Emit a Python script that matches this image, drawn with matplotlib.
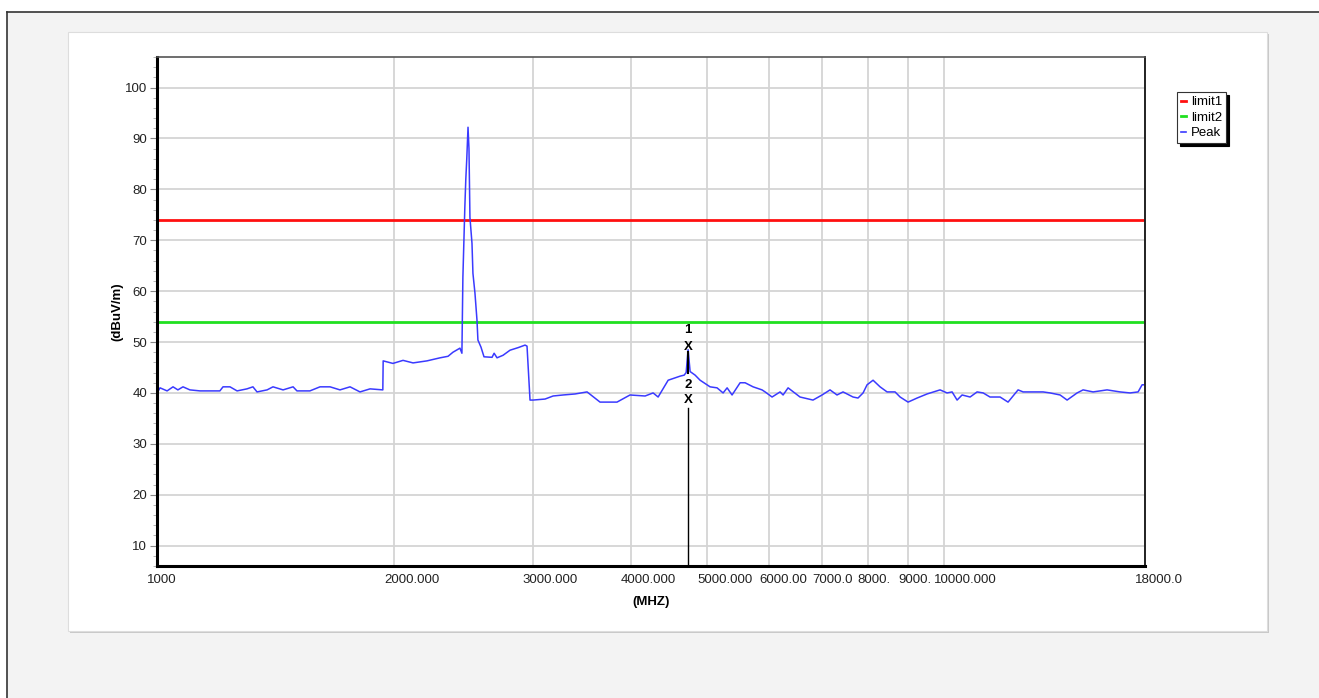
import matplotlib
matplotlib.use("Agg")
import matplotlib.pyplot as plt
import matplotlib.transforms as mtransforms
from matplotlib.patches import Rectangle
from matplotlib.lines import Line2D
from matplotlib.ticker import MultipleLocator, NullLocator

plt.rcParams['font.family'] = ['Liberation Sans', 'DejaVu Sans']

# 測定データ (Peak trace), MHz / dBuV/m
freq_mhz = [1000, 1009, 1030, 1048, 1063, 1079, 1101, 1134, 1202, 1213, 1238, 1264,
            1301, 1324, 1340, 1380, 1404, 1446, 1489, 1506, 1564, 1611, 1659, 1708,
            1759, 1811, 1865, 1931, 1936, 1938, 1994, 2054, 2115, 2203, 2289, 2343,
            2377, 2426, 2440, 2447, 2461, 2468, 2475, 2484, 2491, 2498, 2513, 2520,
            2535, 2550, 2557, 2580, 2603, 2665, 2681, 2704, 2752, 2809, 2876, 2935,
            2952, 2978, 3004, 3112, 3186, 3281, 3398, 3519, 3655, 3841, 3990, 4170,
            4269, 4332, 4461, 4620, 4675, 4702, 4729, 4757, 4827, 4898, 4999, 5043,
            5147, 5239, 5301, 5378, 5506, 5587, 5719, 5871, 5924, 6046, 6189, 6244,
            6336, 6561, 6815, 6998, 7163, 7311, 7441, 7662, 7774, 7890, 7983, 8124,
            8292, 8464, 8664, 8793, 9000, 9241, 9515, 9883, 10088, 10237, 10388, 10541,
            10791, 11014, 11211, 11438, 11780, 12058, 12417, 12601, 12975, 13360, 13637,
            14042, 14332, 14757, 15018, 15463, 16110, 16735, 17232, 17640, 17848, 18000]
peak_dbuv = [40.0, 41.0, 40.4, 41.2, 40.6, 41.2, 40.6, 40.4, 40.4, 41.2, 41.2, 40.4,
             40.8, 41.2, 40.2, 40.6, 41.2, 40.6, 41.2, 40.4, 40.4, 41.2, 41.2, 40.6,
             41.2, 40.2, 40.8, 40.6, 40.6, 46.3, 45.8, 46.4, 45.9, 46.3, 46.9, 47.2,
             48.0, 48.8, 47.8, 62.7, 76.5, 82.0, 86.0, 92.2, 88.0, 74.5, 69.4, 63.5,
             59.6, 54.3, 50.4, 49.0, 47.1, 47.0, 47.8, 46.9, 47.4, 48.4, 48.9, 49.4,
             49.2, 38.6, 38.6, 38.8, 39.4, 39.6, 39.8, 40.2, 38.2, 38.2, 39.6, 39.4,
             40.0, 39.2, 42.5, 43.3, 43.5, 44.0, 48.5, 44.2, 43.5, 42.5, 41.6, 41.2,
             41.0, 40.0, 41.0, 39.6, 42.0, 42.0, 41.2, 40.6, 40.2, 39.2, 40.2, 39.6,
             41.0, 39.2, 38.6, 39.6, 40.6, 39.6, 40.2, 39.2, 39.0, 40.0, 41.6, 42.5,
             41.2, 40.2, 40.2, 39.2, 38.2, 39.0, 39.8, 40.6, 40.0, 40.2, 38.6, 39.6,
             39.2, 40.2, 40.0, 39.2, 39.2, 38.2, 40.6, 40.2, 40.2, 40.2, 40.0,
             39.6, 38.6, 40.0, 40.6, 40.2, 40.6, 40.2, 40.0, 40.2, 41.6, 41.6]

limit1 = 74.0
limit2 = 54.0

marker_freq = 4729
marker1_level = 49.0
marker2_level = 38.6

x_ticks = [1000, 2000, 3000, 4000, 5000, 6000, 7000, 8000, 9000, 10000, 18000]
x_tick_labels = ["1000", "2000.000", "3000.000", "4000.000", "5000.000", "6000.00",
                 "7000.0", "8000.", "9000.", "10000.000", "18000.0"]
y_ticks = [10, 20, 30, 40, 50, 60, 70, 80, 90, 100]

fs = 9.5

fig = plt.figure(figsize=(13.19, 6.98), dpi=100, facecolor='#f3f3f3')

# 外枠と白いパネル
fig.add_artist(Rectangle((0, 1 - 12 / 698), 1, 12 / 698, transform=fig.transFigure,
                         facecolor='white', edgecolor='none', zorder=-5))
fig.add_artist(Rectangle((0, 0), 7 / 1319, 1, transform=fig.transFigure,
                         facecolor='white', edgecolor='none', zorder=-5))
fig.add_artist(Line2D([7 / 1319, 1], [1 - 12 / 698, 1 - 12 / 698], transform=fig.transFigure,
                      color='#333333', lw=1.2, zorder=-4))
fig.add_artist(Line2D([7 / 1319, 7 / 1319], [0, 1 - 12 / 698], transform=fig.transFigure,
                      color='#333333', lw=1.2, zorder=-4))
fig.add_artist(Rectangle((70 / 1319, 1 - 633 / 698), 1199 / 1319, 599 / 698,
                         transform=fig.transFigure, facecolor='#c8c8c8', edgecolor='none', zorder=-3))
fig.add_artist(Rectangle((68 / 1319, 1 - 631 / 698), 1199 / 1319, 599 / 698,
                         transform=fig.transFigure, facecolor='white', edgecolor='#dddddd',
                         lw=0.8, zorder=-2))

ax = fig.add_axes([157 / 1319, 1 - 566 / 698, 988 / 1319, 509 / 698])
ax.set_xscale('log')
ax.set_xlim(1000, 18000)
ax.set_ylim(6, 106)

ax.grid(True, which='major', color='#d4d4d4', lw=1.3)
ax.set_axisbelow(True)

ax.axhline(limit1, color='#ff1010', lw=2, label='limit1')
ax.axhline(limit2, color='#20e020', lw=2, label='limit2')
ax.plot(freq_mhz, peak_dbuv, color='#3a3aff', lw=1.1, label='Peak')

# マーカー
ax.plot([marker_freq, marker_freq], [44.0, marker1_level - 1], color='black', lw=1.5)
ax.plot([marker_freq, marker_freq], [6, marker2_level - 1.5], color='black', lw=1)
ax.text(marker_freq, marker1_level, "X", ha='center', va='center', fontsize=fs, fontweight='bold')
ax.text(marker_freq, marker1_level + 3.3, "1", ha='center', va='center', fontsize=fs, fontweight='bold')
ax.text(marker_freq, marker2_level, "X", ha='center', va='center', fontsize=fs, fontweight='bold')
ax.text(marker_freq, marker2_level + 3.0, "2", ha='center', va='center', fontsize=fs, fontweight='bold')

ax.xaxis.set_minor_locator(NullLocator())
ax.set_xticks(x_ticks)
ax.set_xticklabels(x_tick_labels)
ax.tick_params(axis='x', which='both', length=0, pad=6, labelsize=fs, labelcolor='#222222')
offset = mtransforms.ScaledTranslation(-10 / 100, 0, fig.dpi_scale_trans)
for lbl in ax.xaxis.get_majorticklabels():
    lbl.set_horizontalalignment('left')
    lbl.set_transform(lbl.get_transform() + offset)

ax.set_yticks(y_ticks)
ax.yaxis.set_minor_locator(MultipleLocator(2))
ax.tick_params(axis='y', which='major', length=5, color='#888888', labelsize=fs,
               labelcolor='#222222', pad=2)
ax.tick_params(axis='y', which='minor', length=3, color='#aaaaaa')

ax.spines['left'].set_linewidth(2.2)
ax.spines['bottom'].set_linewidth(2.2)
ax.spines['left'].set_color('black')
ax.spines['bottom'].set_color('black')
ax.spines['top'].set_color('#555555')
ax.spines['top'].set_linewidth(1.2)
ax.spines['right'].set_color('#222222')
ax.spines['right'].set_linewidth(1.4)

ax.set_xlabel("(MHZ)", fontsize=fs, fontweight='bold', labelpad=7)
ax.set_ylabel("(dBuV/m)", fontsize=fs, fontweight='bold', labelpad=1)

handles = [Line2D([0], [0], color='#ff1010', lw=2),
           Line2D([0], [0], color='#20e020', lw=2),
           Line2D([0], [0], color='#3a3aff', lw=1.2)]
leg = fig.legend(handles, ['limit1', 'limit2', 'Peak'], loc='upper left',
                 bbox_to_anchor=(1177 / 1319, 1 - 92 / 698), fontsize=fs,
                 frameon=True, fancybox=False, shadow={'color': 'black', 'alpha': 1},
                 edgecolor='#333333', handlelength=0.4, handletextpad=0.35,
                 borderpad=0.3, labelspacing=0.25, borderaxespad=0)
leg.get_frame().set_linewidth(0.8)

fig.savefig("out.png", dpi=100, facecolor=fig.get_facecolor())
